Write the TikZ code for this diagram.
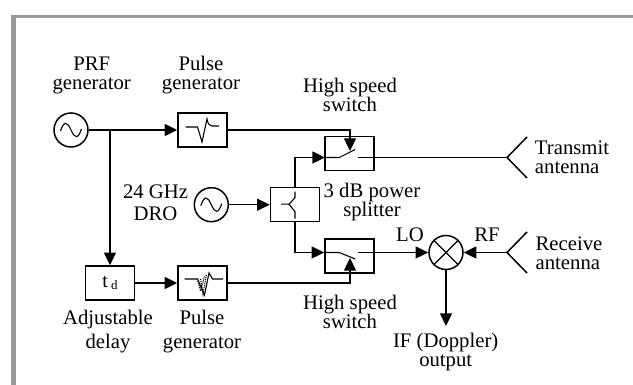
\documentclass[tikz,border=0pt]{standalone}
\usepackage{fontspec}
\setmainfont{Liberation Serif}
\usepackage{xcolor}
\usetikzlibrary{shapes, positioning, arrows.meta, calc}
\definecolor{framegray}{HTML}{999999}

\begin{document}
\begin{tikzpicture}[
        x=1pt, y=1pt,
        line width=1.5pt,
        >={Triangle[length=12.7pt,width=12pt]},
        osc/.style={circle, draw, minimum size=34pt, inner sep=0pt},
        block/.style={rectangle, draw, minimum width=49pt, minimum height=34pt, inner sep=0pt},
        lbl/.style={align=center, inner sep=0pt, font=\fontsize{20.7}{19}\selectfont},
        lblleft/.style={lbl, align=left},
        glyph/.style={line width=1.1pt}
    ]
        \useasboundingbox (0,0) rectangle (633,385);

        % Frame
        \fill[framegray] (11,0) rectangle (15.5,370);
        \fill[framegray] (11,366.5) rectangle (633,370);

        % Blocks
        \node[osc] (prf_gen) at (71,255) {};
        \node[block, right of=prf_gen, node distance=131.5pt] (pulse_top) {};
        \node[block] (delay) at (110,102) {\fontsize{20}{20}\selectfont t\,\raisebox{-2pt}{\fontsize{13}{13}\selectfont d}};
        \node[block, right of=delay, node distance=92.5pt] (pulse_low) {};
        \node[osc] (dro) at (211.3,180.3) {};
        \node[block, right of=dro, node distance=83.7pt] (splitter) {};
        \node[block] (switch_top) at (349.5,231.5) {};
        \node[block] (switch_low) at (349.5,129) {};
        \node[osc] (mixer) at (446,132.5) {};
        \coordinate (tx_ant) at (507,227.5);
        \coordinate (rx_ant) at (507,132.5);
        \coordinate (tx_feed) at (325,227.5);
        \coordinate (top_lever) at (350,234);
        \coordinate (low_lever) at (350,127);
        \coordinate (delay_tap) at (110,255);
        \coordinate (if_out) at (446,59);

        % Labels
        \node[lbl] (prf_lbl) at (91.7,309.5) {PRF\\generator};
        \node[lbl] (pulse_top_lbl) at (201,309.5) {Pulse\\generator};
        \node[lbl] (switch_top_lbl) at (350,290) {High speed\\switch};
        \node[lblleft] (tx_lbl) at (572,228) {Transmit\\antenna};
        \node[lbl, align=center] (dro_lbl) at (155.5,182) {24 GHz\\[3pt]DRO};
        \node[lbl] (splitter_lbl) at (372,182.5) {3 dB power\\splitter};
        \node[lbl] (lo_lbl) at (410,150) {LO};
        \node[lbl] (rf_lbl) at (487,150) {RF};
        \node[lblleft] (rx_lbl) at (569,132) {Receive\\antenna};
        \node[lbl] (delay_lbl) at (108,53) {Adjustable\\[5pt]delay};
        \node[lbl] (pulse_low_lbl) at (202,53) {Pulse\\[5pt]generator};
        \node[lbl] (switch_low_lbl) at (350,73.5) {High speed\\switch};
        \node[lbl] (if_lbl) at (445.7,33) {IF (Doppler)\\output};

        % Connections
        \draw[->] (prf_gen) -- (pulse_top);
        \draw[->, line width=1.3pt] (delay_tap) -- (delay);
        \draw[->] (delay) -- (pulse_low);
        \draw[->, line width=1.3pt] (dro) -- (splitter);
        \draw[->, line width=1.3pt] (pulse_top) -| (top_lever);
        \draw[->, line width=1.3pt] (pulse_low) -| (low_lever);
        \draw[->] (splitter) |- (tx_feed);
        \draw[->] (splitter) |- (switch_low.west |- mixer);
        \draw[->] (switch_low.east |- mixer) -- (mixer);
        \draw[->] (rx_ant) -- (mixer);
        \draw[->] (mixer) -- (if_out);
        \draw[line width=1.3pt] (tx_feed -| switch_top.east) -- (tx_ant);

        % Antennas
        \draw ([shift={(20,20.5)}]tx_ant) -- (tx_ant) -- ([shift={(20,-20.5)}]tx_ant);
        \draw ([shift={(20,20.5)}]rx_ant) -- (rx_ant) -- ([shift={(20,-20.5)}]rx_ant);

        % Mixer cross
        \draw[line width=1.2pt] (mixer.45) -- (mixer.225) (mixer.135) -- (mixer.315);

        % Sine waves
        \foreach \src in {prf_gen, dro} {
            \draw[glyph, shift={(\src.center)}] (-10.5,-1) .. controls (-7,9) and (-4,9) .. (0,0)
                .. controls (4,-9) and (7,-9) .. (10.5,1);
        }

        % Pulse shapes
        \draw[glyph, shift={(pulse_top.center)}] (-17,3) -- (-5,3) -- (-0.5,-12) -- (4.5,11)
            .. controls (5.5,6) and (7,4) .. (9.5,4) -- (16.5,4);
        \draw[glyph, shift={(pulse_low.center)}] (-18,4) -- (-5,4) -- (2,-12) -- (6.5,10)
            -- (10,4) -- (20.5,4);
        \draw[glyph, densely dotted, shift={(pulse_low.center)}] (-5,4) -- (-2,-8) -- (2,7)
            (-2,4) -- (0.5,-11) -- (4,9);

        % Switch contacts
        \draw[glyph] (switch_top.west |- tx_feed) -- ++(15,0) -- ++(16,8);
        \draw[glyph] (switch_low.west |- mixer) -- ++(15,0) -- ++(16,-6.5);
        \draw[glyph] (357.5,227.5) -- (switch_top.east |- tx_feed);
        \draw[glyph] (357.5,132.5) -- (switch_low.east |- mixer);

        % Splitter contacts
        \draw[glyph, shift={(splitter.center)}] (-14,0.5) -- (-6,0.5) -- (0,7) -- (0,13)
            (-6,0.5) -- (0,-7) -- (0,-14);
    \end{tikzpicture}
\end{document}
